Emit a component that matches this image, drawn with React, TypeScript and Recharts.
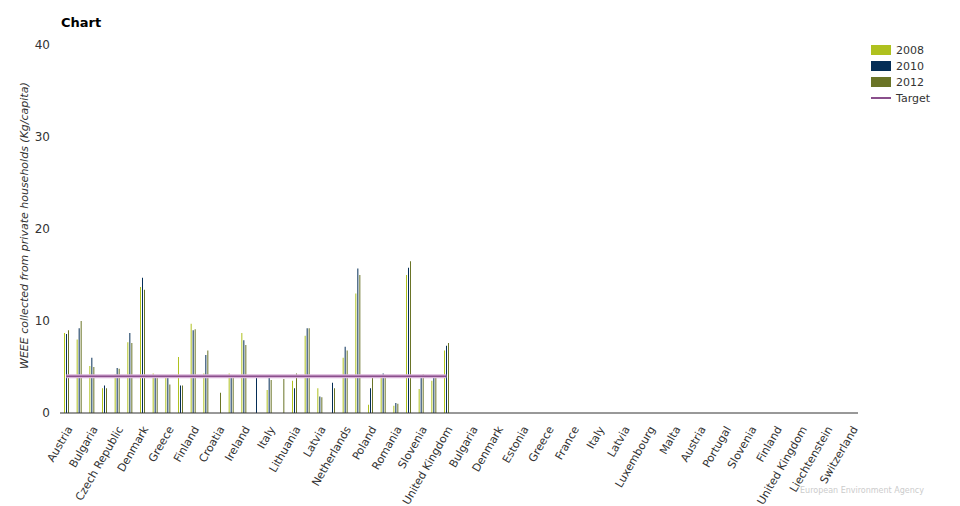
import React from 'react';
import { ComposedChart, Bar, Line, XAxis, YAxis } from 'recharts';

const countries = [
  'Austria', 'Belgium', 'Bulgaria', 'Cyprus', 'Czech Republic', 'Germany', 'Denmark', 'Estonia',
  'Greece', 'Spain', 'Finland', 'France', 'Croatia', 'Hungary', 'Ireland', 'Iceland', 'Italy',
  'Liechtenstein', 'Lithuania', 'Luxembourg', 'Latvia', 'Malta', 'Netherlands', 'Norway', 'Poland',
  'Portugal', 'Romania', 'Sweden', 'Slovenia', 'Slovakia', 'United Kingdom',
  'Belgium', 'Bulgaria', 'Czech Republic', 'Denmark', 'Germany', 'Estonia', 'Ireland', 'Greece',
  'Spain', 'France', 'Croatia', 'Italy', 'Cyprus', 'Latvia', 'Lithuania', 'Luxembourg', 'Hungary',
  'Malta', 'Netherlands', 'Austria', 'Poland', 'Portugal', 'Romania', 'Slovenia', 'Slovakia',
  'Finland', 'Sweden', 'United Kingdom', 'Iceland', 'Liechtenstein', 'Norway', 'Switzerland',
];

const v2008 = [
  8.7, 8.0, 5.1, 2.7, 4.2, 7.7, 13.7, 4.3, 3.9, 6.1, 9.7, 4.3, null, 4.3, 8.7, null,
  2.5, null, 3.5, 8.4, 2.7, null, 6.0, 13.0, 0.9, 3.9, 0.8, 15.0, 2.6, 3.5, 6.8,
];
const v2010 = [
  8.6, 9.2, 6.0, 3.0, 4.9, 8.7, 14.7, 4.1, 3.9, 3.0, 9.0, 6.3, null, 3.9, 7.9, 4.1,
  4.1, null, 2.7, 9.2, 1.8, 3.3, 7.2, 15.7, 2.7, 4.3, 1.1, 15.8, 3.9, 3.8, 7.3,
];
const v2012 = [
  9.0, 10.0, 5.0, 2.7, 4.8, 7.6, 13.4, 3.9, 3.1, 3.0, 9.1, 6.8, 2.2, 4.1, 7.4, null,
  3.6, 3.7, 4.3, 9.2, 1.7, 2.7, 6.8, 15.0, 4.1, 3.9, 1.0, 16.5, 4.2, 3.9, 7.6,
];
const targetValue = 4;
const targetCount = 31;
const yTicks = [0, 10, 20, 30, 40];

const data = countries.map((name, i) => ({
  name,
  y2008: v2008[i] ?? null,
  y2010: v2010[i] ?? null,
  y2012: v2012[i] ?? null,
  target: i < targetCount ? targetValue : null,
}));

const FONT = '"DejaVu Sans", Verdana, sans-serif';

const legendItems = [
  { label: '2008', color: '#afc11f', kind: 'box' },
  { label: '2010', color: '#042d56', kind: 'box' },
  { label: '2012', color: '#6a7427', kind: 'box' },
  { label: 'Target', color: '#8a4f8c', kind: 'line' },
];

function CountryTick(props: any) {
  const { x, y, payload } = props;
  return (
    <g transform={`translate(${x + 3},${y + 6})`}>
      <text
        textAnchor="end"
        transform="rotate(-60)"
        fontSize={11}
        fill="#333"
        fontFamily={FONT}
        dy={4}
      >
        {payload.value}
      </text>
    </g>
  );
}

export default function App() {
  return (
    <div style={{ position: 'absolute', left: 0, top: 0, width: 960, height: 506, background: '#fff', fontFamily: FONT }}>
      <div style={{ position: 'absolute', left: 61, top: 15, fontSize: 13, fontWeight: 'bold', color: '#000' }}>Chart</div>
      <ComposedChart
        width={960}
        height={506}
        data={data}
        margin={{ top: 45, right: 102, left: 0, bottom: 0 }}
        barSize={1}
        barGap={1}
      >
        <XAxis
          dataKey="name"
          interval={1}
          tickLine={false}
          axisLine={{ stroke: '#333', strokeWidth: 1 }}
          height={93}
          tick={<CountryTick />}
        />
        <YAxis
          width={60}
          domain={[0, 40]}
          ticks={yTicks}
          axisLine={false}
          tickLine={false}
          tickSize={0}
          tickMargin={10}
          tick={{ fontSize: 12, fill: '#333', fontFamily: FONT }}
          label={{
            value: 'WEEE collected from private households (Kg/capita)',
            angle: -90,
            position: 'insideLeft',
            dx: 19,
            dy: 140,
            style: { fontSize: 11, fill: '#333', fontStyle: 'italic', fontFamily: FONT },
          }}
        />
        <Bar dataKey="y2008" name="2008" fill="#afc11f" isAnimationActive={false} />
        <Bar dataKey="y2010" name="2010" fill="#042d56" isAnimationActive={false} />
        <Bar dataKey="y2012" name="2012" fill="#6a7427" isAnimationActive={false} />
        <Line
          dataKey="target"
          name="Target"
          stroke="#d9b3d9"
          strokeWidth={4}
          dot={false}
          legendType="none"
          isAnimationActive={false}
        />
        <Line
          dataKey="target"
          name="Target"
          stroke="#8a4f8c"
          strokeWidth={1.5}
          dot={false}
          isAnimationActive={false}
        />
      </ComposedChart>
      <div style={{ position: 'absolute', left: 871, top: 42, fontSize: 11, color: '#333' }}>
        {legendItems.map((it) => (
          <div key={it.label} style={{ display: 'flex', alignItems: 'center', height: 16 }}>
            {it.kind === 'box' ? (
              <span style={{ display: 'inline-block', width: 20, height: 10, background: it.color, marginRight: 5 }} />
            ) : (
              <span style={{ display: 'inline-block', width: 20, height: 2, background: it.color, marginRight: 5 }} />
            )}
            <span>{it.label}</span>
          </div>
        ))}
      </div>
      <div style={{ position: 'absolute', left: 800, top: 486, fontSize: 8, color: '#ccc' }}>European Environment Agency</div>
    </div>
  );
}
